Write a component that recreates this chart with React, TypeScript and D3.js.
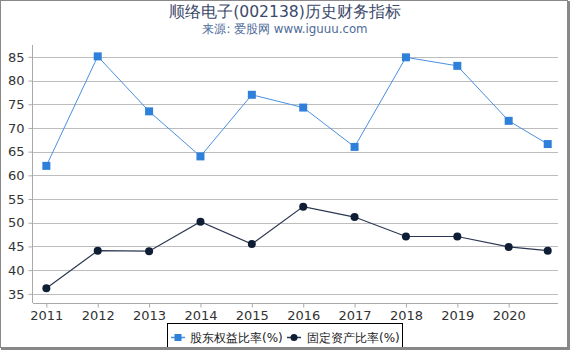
import { useRef, useEffect } from 'react';
import * as d3 from 'd3';

const years = [2011, 2012, 2013, 2014, 2015, 2016, 2017, 2018, 2019, 2020, 2020.76];
const equityRatio = [62.0, 85.1, 73.5, 64.0, 77.0, 74.3, 66.0, 84.9, 83.1, 71.5, 66.6];
const fixedAssetRatio = [36.2, 44.1, 44.0, 50.2, 45.5, 53.4, 51.2, 47.1, 47.1, 44.9, 44.1];
const xTicks = [2011, 2012, 2013, 2014, 2015, 2016, 2017, 2018, 2019, 2020];
const yTicks = [35, 40, 45, 50, 55, 60, 65, 70, 75, 80, 85];

const W = 570;
const H = 350;
const FONT = 'DejaVu Sans, sans-serif';

function App() {
    const ref = useRef<SVGSVGElement>(null);

    useEffect(() => {
        const svg = d3.select(ref.current);
        svg.selectAll('*').remove();

        svg.append('rect').attr('width', W).attr('height', H).attr('fill', 'white');

        const x = d3.scaleLinear().domain([2010.74, 2020.96]).range([33, 558]);
        const y = d3.scaleLinear().domain([33.7, 87.5]).range([300, 45]);

        // grid
        svg.append('g')
            .selectAll('line')
            .data(yTicks)
            .enter()
            .append('line')
            .attr('x1', 33).attr('x2', 558)
            .attr('y1', d => Math.round(y(d)) + 0.5)
            .attr('y2', d => Math.round(y(d)) + 0.5)
            .attr('stroke', '#bdbdbd')
            .attr('stroke-width', 1);

        // y axis
        const yAxis = svg.append('g').attr('transform', 'translate(32.5,0)')
            .call(d3.axisLeft(y).tickValues(yTicks).tickSize(4).tickPadding(4));
        yAxis.select('.domain').attr('stroke', '#aaa').attr('d', 'M0,45V303');
        yAxis.selectAll('.tick line').attr('stroke', '#aaa');
        yAxis.selectAll('text').attr('fill', '#333').style('font-size', '13px').style('font-family', FONT);

        // x axis
        const xAxis = svg.append('g').attr('transform', 'translate(0,303.5)')
            .call(d3.axisBottom(x).tickValues(xTicks).tickFormat(d3.format('d')).tickSize(4).tickPadding(3));
        xAxis.select('.domain').attr('stroke', '#aaa').attr('d', 'M33,0H558');
        xAxis.selectAll('.tick line').attr('stroke', '#aaa');
        xAxis.selectAll('text').attr('fill', '#333').style('font-size', '13px').style('font-family', FONT);

        const line = d3.line<number>().x((d, i) => x(years[i])).y(d => y(d));

        svg.append('path').datum(equityRatio).attr('d', line)
            .attr('fill', 'none').attr('stroke', '#4a8fe0').attr('stroke-width', 1);
        svg.append('g').selectAll('rect').data(equityRatio).enter().append('rect')
            .attr('x', (d, i) => x(years[i]) - 4)
            .attr('y', d => y(d) - 4)
            .attr('width', 8).attr('height', 8)
            .attr('fill', '#2f80da');

        svg.append('path').datum(fixedAssetRatio).attr('d', line)
            .attr('fill', 'none').attr('stroke', '#2b3650').attr('stroke-width', 1.2);
        svg.append('g').selectAll('circle').data(fixedAssetRatio).enter().append('circle')
            .attr('cx', (d, i) => x(years[i]))
            .attr('cy', d => y(d))
            .attr('r', 4)
            .attr('fill', '#0f1d35');

        // title
        svg.append('text').attr('x', 285).attr('y', 17).attr('text-anchor', 'middle')
            .style('font-family', FONT).style('font-size', '15.6px').attr('fill', '#3b4a6b')
            .text('顺络电子(002138)历史财务指标');
        svg.append('text').attr('x', 285).attr('y', 33).attr('text-anchor', 'middle')
            .style('font-family', FONT).style('font-size', '11.8px').attr('fill', '#4d6a99')
            .text('来源: 爱股网 www.iguuu.com');

        // legend
        const lg = svg.append('g');
        lg.append('rect').attr('x', 167.5).attr('y', 323.5).attr('width', 235).attr('height', 30)
            .attr('fill', 'white').attr('stroke', '#000').attr('stroke-width', 1);
        lg.append('line').attr('x1', 171).attr('x2', 185).attr('y1', 337.5).attr('y2', 337.5)
            .attr('stroke', '#4a8fe0').attr('stroke-width', 1.5);
        lg.append('rect').attr('x', 174.5).attr('y', 334).attr('width', 7).attr('height', 7).attr('fill', '#2f80da');
        lg.append('text').attr('x', 190).attr('y', 342).style('font-family', FONT).style('font-size', '12px')
            .attr('fill', '#222').text('股东权益比率(%)');
        lg.append('line').attr('x1', 287).attr('x2', 301).attr('y1', 337.5).attr('y2', 337.5)
            .attr('stroke', '#2b3650').attr('stroke-width', 1.5);
        lg.append('circle').attr('cx', 294).attr('cy', 337.5).attr('r', 3.5).attr('fill', '#0f1d35');
        lg.append('text').attr('x', 307).attr('y', 342).style('font-family', FONT).style('font-size', '12px')
            .attr('fill', '#222').text('固定资产比率(%)');

        // frame
        svg.append('rect').attr('x', 0.5).attr('y', 0.5).attr('width', W - 3).attr('height', H - 3)
            .attr('fill', 'none').attr('stroke', '#888').attr('stroke-width', 1);
        svg.append('path').attr('d', `M${W - 1.5},1V${H - 1.5}H1`)
            .attr('fill', 'none').attr('stroke', '#888').attr('stroke-width', 3);
    }, []);

    return <svg ref={ref} width={W} height={H} style={{ position: 'fixed', left: 0, top: 0, display: 'block' }} />;
}

export default App;
